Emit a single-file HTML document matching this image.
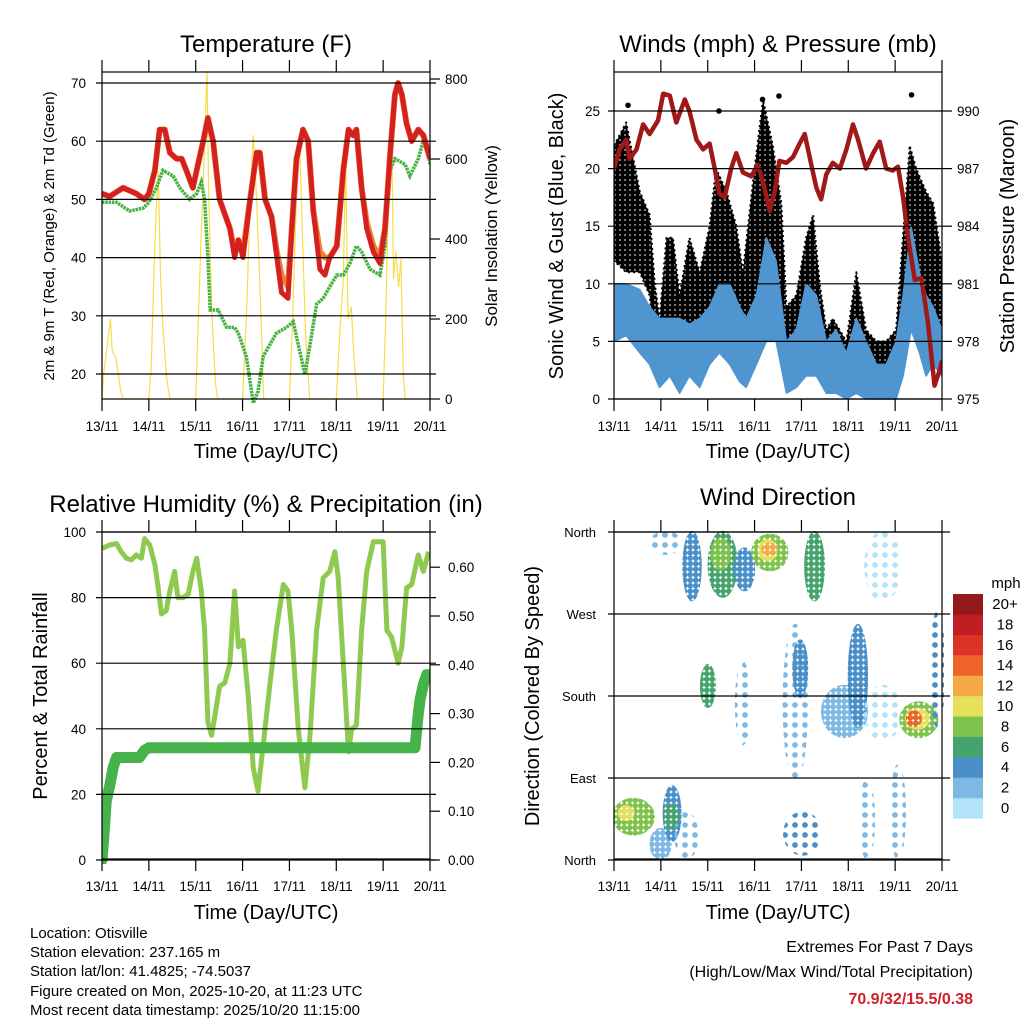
<!DOCTYPE html>
<html><head><meta charset="utf-8"><style>
html,body{margin:0;padding:0;background:#fff;}
svg{display:block;font-family:"Liberation Sans",sans-serif;}
.t{font-size:24px;text-anchor:middle;}
.at{font-size:20px;text-anchor:middle;}
.tk{font-size:13.5px;}
.info{font-size:15px;}
</style></head><body>
<svg id="chart" width="1024" height="1024" viewBox="0 0 1024 1024" xmlns="http://www.w3.org/2000/svg">
<defs id="defs"></defs>
<g id="marks"></g>
<g id="axes"></g>
<text class="t" x="266" y="52">Temperature (F)</text>
<text class="t" x="778" y="52">Winds (mph) &amp; Pressure (mb)</text>
<text class="t" x="266" y="512">Relative Humidity (%) &amp; Precipitation (in)</text>
<text class="t" x="778" y="505">Wind Direction</text>
<text class="at" x="266" y="458">Time (Day/UTC)</text>
<text class="at" x="778" y="458">Time (Day/UTC)</text>
<text class="at" x="266" y="919">Time (Day/UTC)</text>
<text class="at" x="778" y="919">Time (Day/UTC)</text>
<text x="54" y="236" font-size="15" text-anchor="middle" transform="rotate(-90 54 236)">2m &amp; 9m T (Red, Orange) &amp; 2m Td (Green)</text>
<text x="497" y="236" font-size="17" text-anchor="middle" transform="rotate(-90 497 236)">Solar Insolation (Yellow)</text>
<text x="563" y="236" class="at" transform="rotate(-90 563 236)">Sonic Wind &amp; Gust (Blue, Black)</text>
<text x="1014" y="236" class="at" transform="rotate(-90 1014 236)">Station Pressure (Maroon)</text>
<text x="47" y="696" class="at" transform="rotate(-90 47 696)">Percent &amp; Total Rainfall</text>
<text x="539" y="696" class="at" transform="rotate(-90 539 696)">Direction (Colored By Speed)</text>
<g class="info">
<text x="30" y="938">Location: Otisville</text>
<text x="30" y="957">Station elevation: 237.165 m</text>
<text x="30" y="976">Station lat/lon: 41.4825; -74.5037</text>
<text x="30" y="996">Figure created on Mon, 2025-10-20, at 11:23 UTC</text>
<text x="30" y="1015">Most recent data timestamp: 2025/10/20 11:15:00</text>
</g>
<g class="info" text-anchor="end">
<text x="973" y="952" font-size="16">Extremes For Past 7 Days</text>
<text x="973" y="977" font-size="16">(High/Low/Max Wind/Total Precipitation)</text>
<text x="973" y="1004" font-size="16" font-weight="bold" fill="#d0202a">70.9/32/15.5/0.38</text>
</g>
</svg>
<script>
// ---------- data ----------
const dayLabels=["13/11","14/11","15/11","16/11","17/11","18/11","19/11","20/11"];
const tTime=[0,0.16,0.45,0.73,0.91,1.0,1.13,1.23,1.34,1.45,1.59,1.70,1.80,1.94,2.02,2.16,2.26,2.37,2.51,2.73,2.83,2.91,3.01,3.16,3.30,3.37,3.48,3.62,3.73,3.83,3.97,4.05,4.15,4.29,4.40,4.51,4.65,4.76,4.86,5.01,5.15,5.26,5.36,5.43,5.54,5.65,5.79,5.93,6.04,6.15,6.25,6.32,6.40,6.50,6.61,6.75,6.86,7.0];
const temp2m=[51,50.5,52,51,50,51,55,62,62,58,57,57,55,52,55,60,64,60,50,45,40,43,40,50,58,58,50,47,40,34,33,45,57,62,60,48,38,37,40,42,55,62,61,62,52,45,41,39,45,58,68,70,68,63,60,62,61,57];
const temp9m=[51,50.5,52,51,50,51,55,62,62,58,57,57,55,52,55,60,64,60,50,45,41,43,41,50,58,58,50,47,41,37,35,45,57,62,60,48,41,40,40,42,55,62,61,62,52,46,42,40,45,58,68,70,68,63,60,62,61,57];
const tdTime=[0,0.31,0.59,0.88,1.0,1.16,1.30,1.52,1.66,1.87,2.02,2.12,2.19,2.26,2.31,2.48,2.66,2.83,2.91,3.08,3.23,3.33,3.44,3.58,3.72,3.94,4.08,4.19,4.33,4.44,4.58,4.72,4.86,5.01,5.15,5.29,5.43,5.54,5.72,5.93,6.04,6.15,6.25,6.47,6.57,6.75,6.89,7.0];
const dew2m=[49.5,49.5,48,48.5,49.5,52,55,54,52,50,51,53,50,40,31,31,28,28,27,23,15,17,23,25,27,28,29,25,20,25,32,33,35,37,37,39,42,41,38,37,42,55,57,56,54,57,61,56];
const solTime=[0,0.03,0.12,0.18,0.22,0.3,0.4,0.45,1.0,1.05,1.12,1.16,1.20,1.25,1.30,1.38,1.45,2.0,2.05,2.12,2.18,2.24,2.28,2.35,2.42,2.47,3.0,3.08,3.18,3.23,3.30,3.38,3.45,4.0,4.07,4.15,4.22,4.28,4.35,4.43,5.0,5.07,5.15,5.2,5.25,5.32,5.38,5.45,6.0,6.05,6.12,6.18,6.22,6.27,6.33,6.38,6.43,6.47,7.0];
const solar=[0,60,140,200,120,100,20,0,0,80,360,480,570,300,180,50,0,0,180,420,600,820,500,200,40,0,0,200,550,660,500,250,0,0,200,520,650,400,150,0,0,160,300,600,200,230,100,0,0,180,550,700,300,370,280,350,60,0,0];

const windTime=[0,0.26,0.55,0.76,0.97,1.19,1.40,1.61,1.83,2.04,2.25,2.47,2.68,2.82,3.04,3.25,3.46,3.68,3.89,4.10,4.32,4.53,4.74,4.96,5.17,5.38,5.60,5.81,6.02,6.17,6.34,6.52,6.66,6.81,7.0];
const windHi=[10,10,9.5,8,7,7,7,6.5,7,8,10,10,8,7,9,14,12,5,6,10,9,5,6,4,7,5,3,3,5,9,15,11,9,8,6];
const windLo=[5,5.5,4,3,1,2,0.5,2,1,3,4,3,1.5,1,3,5,5,0.5,1,2,2,0.5,0.5,0,0.5,0,0,0,0,2,6,4,2,3,2];
const gustTime=[0,0.26,0.55,0.76,0.87,0.97,1.12,1.26,1.40,1.61,1.83,2.04,2.18,2.40,2.61,2.75,2.97,3.18,3.39,3.57,3.68,3.89,4.10,4.25,4.39,4.53,4.67,4.96,5.17,5.38,5.60,5.81,6.02,6.13,6.31,6.45,6.66,6.81,7.0];
const gustHi=[22,24,18,16,10,7,14,14,9,14,11,15,20,18,15,11,19,26,22,17,8,9,14,16,10,6,7,5,11,6,5,5,6,12,22,20,18,17,12];
const gustLo=[12,11,11,9,5,3,6,5,3,4,6,6,8,8,6,5,6,8,9,8,3,4,6,8,5,2,3,2,5,2,1.5,1,1,7,10,9,7,6,5];
const gustOutT=[0.3,2.24,3.17,3.52,6.35];
const gustOutV=[25.5,25,26,26.3,26.4];
const presTime=[0,0.12,0.26,0.33,0.48,0.62,0.76,0.94,1.05,1.19,1.33,1.51,1.61,1.76,1.90,2.04,2.15,2.25,2.36,2.50,2.61,2.75,2.93,3.07,3.21,3.32,3.43,3.53,3.68,3.82,3.96,4.07,4.21,4.32,4.42,4.53,4.67,4.82,4.96,5.10,5.21,5.38,5.53,5.67,5.81,5.95,6.06,6.17,6.27,6.42,6.56,6.70,6.84,6.95,7.0];
const pressure=[987,988,988.5,987.5,988,989.3,988.8,989.5,990.9,990.8,989.4,990.6,990,988.5,988,988.3,987,985.7,985.5,987,987.8,986.8,986.6,987.2,986,984.8,985.8,987.4,987.3,987.6,988.3,988.8,987.2,986,985.4,986.7,987.3,987,988,989.3,988.5,987,987.8,988.4,987,986.9,987.1,985.5,983.5,981.2,981.3,979,975.7,976.5,977];

const rhTime=[0,0.16,0.31,0.41,0.52,0.63,0.73,0.84,0.91,1.02,1.13,1.20,1.27,1.37,1.45,1.55,1.62,1.73,1.84,1.94,2.02,2.12,2.19,2.26,2.34,2.41,2.51,2.62,2.73,2.83,2.91,3.01,3.12,3.23,3.33,3.44,3.58,3.72,3.87,3.97,4.05,4.19,4.33,4.44,4.58,4.72,4.86,4.97,5.04,5.15,5.26,5.33,5.43,5.54,5.65,5.79,6.00,6.08,6.18,6.32,6.40,6.50,6.61,6.75,6.86,6.97];
const rh=[95,96,96.5,94,92,91.5,93,92,98,96,90,83,75,76,82,88,80,80,81,88,92,82,70,42,38,44,53,54,60,82,65,67,50,28,21,35,53,70,84,82,70,40,22,38,70,86,88,94,86,60,33,40,41,70,88,97,97,70,68,60,65,83,84,93,88,94];
const prTime=[0,0.04,0.09,0.16,0.24,0.31,0.80,0.91,1.0,6.68,6.72,6.75,6.79,6.86,6.93,7.0];
const precip=[0,0.05,0.12,0.15,0.19,0.21,0.21,0.225,0.23,0.23,0.27,0.30,0.33,0.36,0.38,0.38];

// wind direction clusters: start/end day, min/max degrees, speed (mph), dense flag
const clT0=[0,0.12,0.8,1.08,1.15,1.33,0.8,1.5,2.04,2.1,2.6,2.97,3.1,3.25,1.9,2.72,3.64,3.9,4.1,4.46,5.03,5.38,5.38,5.3,5.95,6.13,6.25,6.3,6.8,3.65];
const clT1=[0.83,0.4,1.19,1.4,1.3,1.76,1.4,1.83,2.6,2.45,2.97,3.68,3.45,3.38,2.11,2.78,4.1,4.05,4.46,5.38,5.38,6.1,6.1,5.5,6.17,6.88,6.7,6.5,7.0,4.4];
const clD0=[29,45,2,22,35,2,337,286,290,320,297,319,330,336,169,128,88,180,286,136,147,286,132,2,2,136,145,148,147,7];
const clD1=[66,58,33,80,60,51,359,359,359,352,341,356,350,346,213,216,257,240,359,190,257,359,190,88,103,172,165,162,271,51];
const clSpd=[8,10,2,5,6,2,2,4,7,9,4,9,11,13,6,3,3,4,6,2,4,1,1,2,2,8,10,14,4,4];
const clDense=[1,1,1,1,1,0,0,1,1,1,1,1,1,1,1,0,0,1,1,1,1,0,0,0,0,1,1,1,0,0];
const speedLabels=["0","2","4","6","8","10","12","14","16","18","20+"];
const speedColors=["#b3e3f8","#7db9e4","#4a8fc7","#45a36d","#7dc24a","#e7e05b","#f6a944","#ef6228","#dc3328","#bf1e24","#921a1b"];

// ---------- scales ----------
const NS="http://www.w3.org/2000/svg";
const marks=document.getElementById('marks'), axes=document.getElementById('axes'), defs=document.getElementById('defs');
const DAYW=328/7;
const x1=t=>102+t*DAYW, x2=t=>614+t*DAYW;
const yT=v=>374-(v-20)*5.82, yS=v=>399-v*0.4;
const yW=v=>399-v*11.52, yP=v=>399-(v-975)*19.2;
const yR=v=>860-v*3.28, yPr=v=>860-v*488;
const yD=d=>860-d*0.9111;
function mk(tag,at,par){const e=document.createElementNS(NS,tag);for(const k in at)e.setAttribute(k,at[k]);(par||marks).appendChild(e);return e;}
function pts(ts,vs,fx,fy){return ts.map((t,i)=>fx(t).toFixed(1)+','+fy(vs[i]).toFixed(1)).join(' ');}
function band(ts,hi,lo,fx,fy){return pts(ts,hi,fx,fy)+' '+pts(ts.slice().reverse(),lo.slice().reverse(),fx,fy);}

// patterns
function pat(id,color,step,r){const p=mk('pattern',{id:id,width:step,height:step,patternUnits:'userSpaceOnUse'},defs);mk('circle',{cx:step/2,cy:step/2,r:r,fill:color},p);}
pat('gustpat','#000',5,2.9);
speedColors.forEach((c,i)=>{pat('sd'+i,c,5.5,2.8);pat('ss'+i,c,10,2.9);});

// clip paths
function clip(id,x,y,w,h){const c=mk('clipPath',{id:id},defs);mk('rect',{x:x,y:y,width:w,height:h},c);}
clip('c1',102,68,328,335);clip('c2',614,68,328,335);clip('c3',102,528,328,336);clip('c4',614,528,330,336);

// ---------- panel 1 ----------
let g1=mk('g',{'clip-path':'url(#c1)'});
let e;
e=mk('polyline',{points:pts(solTime,solar,x1,yS),fill:'none',stroke:'#f7dd4a','stroke-width':1.2},g1);


e=mk('polyline',{points:pts(tdTime,dew2m,x1,yT),fill:'none',stroke:'#46b041','stroke-width':3.5,'stroke-dasharray':'2.5 0.8'},g1);


e=mk('polyline',{points:pts(tTime,temp9m,x1,yT),fill:'none',stroke:'#f08030','stroke-width':6,'stroke-linejoin':'round'},g1);


e=mk('polyline',{points:pts(tTime,temp2m,x1,yT),fill:'none',stroke:'#d42020','stroke-width':5,'stroke-linejoin':'round'},g1);



// ---------- panel 2 ----------
let g2=mk('g',{'clip-path':'url(#c2)'});
e=mk('polygon',{points:band(gustTime,gustHi,gustLo,x2,yW),fill:'url(#gustpat)',stroke:'#000','stroke-width':2,'stroke-dasharray':'2 3','stroke-linejoin':'round'},g2);


gustOutT.forEach((t,i)=>{const c=mk('circle',{cx:x2(t),cy:yW(gustOutV[i]),r:2.8,fill:'#000'},g2);

});
e=mk('polygon',{points:band(windTime,windHi,windLo,x2,yW),fill:'#4f95d0',stroke:'#4f95d0','stroke-width':1.5,'stroke-linejoin':'round'},g2);


e=mk('polyline',{points:pts(presTime,pressure,x2,yP),fill:'none',stroke:'#a01818','stroke-width':4.5,'stroke-linejoin':'round'},g2);



// ---------- panel 3 ----------
let g3=mk('g',{'clip-path':'url(#c3)'});
e=mk('polyline',{points:pts(rhTime,rh,x1,yR),fill:'none',stroke:'#8fca50','stroke-width':5,'stroke-linejoin':'round'},g3);


e=mk('polyline',{points:pts(prTime,precip,x1,yPr),fill:'none',stroke:'#46b24a','stroke-width':11,'stroke-linejoin':'round','stroke-linecap':'round'},g3);



// ---------- panel 4 ----------
let g4=mk('g',{'clip-path':'url(#c4)'});
clT0.forEach((t0,i)=>{const bin=Math.min(10,Math.floor(clSpd[i]/2));
const cx=(x2(t0)+x2(clT1[i]))/2, cy=(yD(clD0[i])+yD(clD1[i]))/2;
const rx=Math.max(8,(x2(clT1[i])-x2(t0))/2+2), ry=Math.max(6,(yD(clD0[i])-yD(clD1[i]))/2+2);
const c=mk('ellipse',{cx:cx,cy:cy,rx:rx,ry:ry,fill:'url(#'+(clDense[i]?'sd':'ss')+bin+')'},g4);

});

// ---------- axes ----------
function line(x1_,y1_,x2_,y2_,w,col){return mk('line',{x1:x1_,y1:y1_,x2:x2_,y2:y2_,stroke:col||'#000','stroke-width':w||1},axes);}
function txt(x,y,s,anchor,size){const t=mk('text',{x:x,y:y,'text-anchor':anchor||'middle','font-size':size||13.5},axes);t.textContent=s;return t;}
function frame(x0,y0,name){const r=mk('rect',{x:x0,y:y0,width:328,height:327,fill:'none',stroke:'#000','stroke-width':1.2},axes);


dayLabels.forEach((d,i)=>{const x=x0+i*DAYW;line(x,y0,x,y0-12,1.2);line(x,y0+327,x,y0+339,1.2);
const l=txt(x,y0+359,d);

});}
frame(102,72,'temperature-plot-frame');frame(614,72,'winds-plot-frame');frame(102,532,'humidity-plot-frame');frame(614,532,'direction-plot-frame');
// panel 1 axes
const tTicks=[20,30,40,50,60,70];
tTicks.forEach(v=>{line(96,yT(v),436,yT(v),1.2);const l=txt(86,yT(v)+5,String(v),'end');

});
const sTicks=[0,200,400,600,800];
sTicks.forEach(v=>{line(430,yS(v),440,yS(v),1.2);const l=txt(445,yS(v)+5,String(v),'start');

});
// panel 2 axes
const wTicks=[0,5,10,15,20,25];
wTicks.forEach(v=>{line(608,yW(v),942,yW(v),1.2);const l=txt(600,yW(v)+5,String(v),'end');

});
const pTicks=[975,978,981,984,987,990];
pTicks.forEach(v=>{line(942,yP(v),952,yP(v),1.2);const l=txt(957,yP(v)+5,String(v),'start');

});
// panel 3 axes
const rTicks=[0,20,40,60,80,100];
rTicks.forEach(v=>{line(96,yR(v),436,yR(v),1.2);const l=txt(86,yR(v)+5,String(v),'end');

});
const prTicks=[0,0.1,0.2,0.3,0.4,0.5,0.6];
prTicks.forEach(v=>{line(430,yPr(v),440,yPr(v),1.2);const l=txt(448,yPr(v)+5,v.toFixed(2),'start');

});
// panel 4 axes
const dirLabels=["North","East","South","West","North"];
dirLabels.forEach((s,i)=>{const y=yD(i*90);line(608,y,950,y,1.2);const l=txt(596,y+5,s,'end',13);

});
// colorbar
speedColors.forEach((c,i)=>{const r=mk('rect',{x:953,y:798-i*20.4,width:30,height:20.6,fill:c},axes);


const l=txt(1005,798-i*20.4+15,speedLabels[i],'middle',15);

});
const mph=txt(1006,588,'mph','middle',15);


</script>
</body></html>
